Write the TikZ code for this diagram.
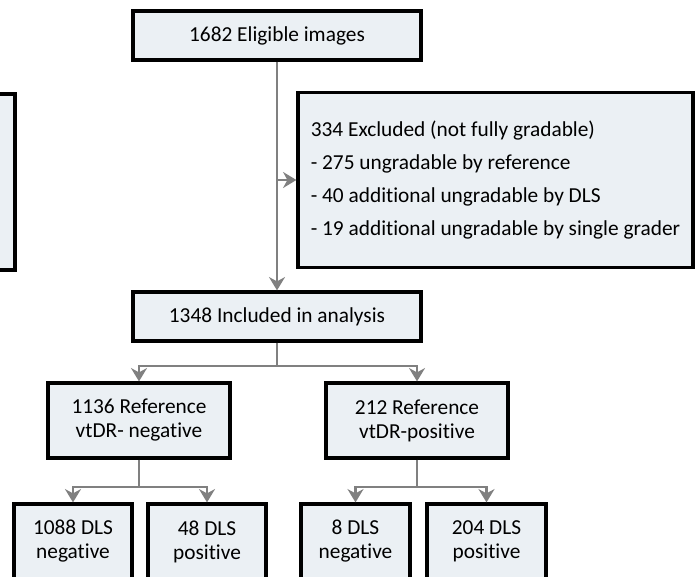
\documentclass[tikz,border=0pt]{standalone}
\usepackage{fontspec}
\setmainfont{Carlito}[Ligatures=NoCommon]
\usepackage{xcolor}
\usepackage{tikz}
\usetikzlibrary{arrows.meta}

\definecolor{boxfill}{HTML}{EBF0F4}
\definecolor{linkgray}{HTML}{808080}

\tikzset{
    box/.style={draw=black, line width=2.4pt, fill=boxfill, rectangle, inner sep=0pt, align=center, font=\fontsize{16}{18}\selectfont},
    link/.style={draw=linkgray, line width=2.2pt, -{Stealth[length=10pt, width=12pt]}}
}

\begin{document}
\begin{tikzpicture}[x=0.75pt, y=-0.75pt]
        \useasboundingbox (0,0) rectangle (696,577);
        \clip (0,0) rectangle (696,577);

        \node[box, minimum width=90pt, minimum height=132pt] (side) at (-45,182) {};

        \node[box, minimum width=216pt, minimum height=36.75pt] (elig) at (277,35.5) {1682 Eligible images};
        \node[box, minimum width=296.25pt, minimum height=131.25pt, align=left, font=\fontsize{16}{24.75}\selectfont] (excl) at (495.5,180) {334 Excluded (not fully gradable)\\
            - 275 ungradable by reference\\
            - 40 additional ungradable by DLS\\
            - 19 additional ungradable by single grader};
        \node[box, minimum width=216pt, minimum height=36.75pt] (incl) at (277,316.5) {1348 Included in analysis};

        \node[box, minimum width=136.5pt, minimum height=56.25pt] (refneg) at (139,420.5) {1136 Reference\\vtDR- negative};
        \node[box, minimum width=136.5pt, minimum height=56.25pt] (refpos) at (417,420.5) {212 Reference\\vtDR-positive};

        \node[box, minimum width=88.5pt, minimum height=56.25pt] (dlsnn) at (73,541.5) {1088 DLS\\negative};
        \node[box, minimum width=88.5pt, minimum height=56.25pt] (dlsnp) at (207,541.5) {48 DLS\\positive};
        \node[box, minimum width=81.75pt, minimum height=56.25pt] (dlspn) at (355.5,541.5) {8 DLS\\negative};
        \node[box, minimum width=89.25pt, minimum height=56.25pt] (dlspp) at (486.5,541.5) {204 DLS\\positive};

        \coordinate (exclsplit) at (277,180);
        \coordinate (inclsplit) at (277,366);
        \coordinate (negsplit) at (139,487);
        \coordinate (possplit) at (417,487);

        \draw[link] (elig.south) -- (incl.north);
        \draw[link] (exclsplit) -- (excl.west);
        \draw[link] (incl.south) -- (inclsplit) -| (refneg.north);
        \draw[link] (inclsplit) -| (refpos.north);
        \draw[link] (refneg.south) -- (negsplit) -| (dlsnn.north);
        \draw[link] (negsplit) -| (dlsnp.north);
        \draw[link] (refpos.south) -- (possplit) -| (dlspn.north);
        \draw[link] (possplit) -| (dlspp.north);
    \end{tikzpicture}
\end{document}
